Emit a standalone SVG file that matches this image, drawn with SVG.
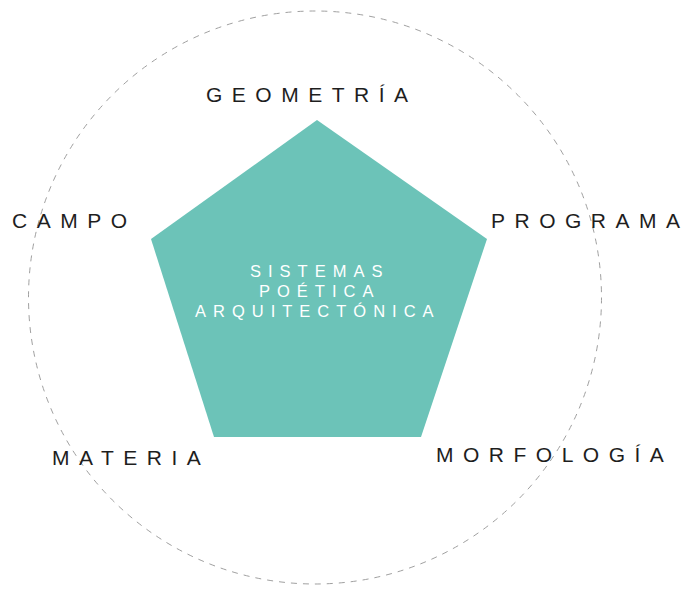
<svg xmlns="http://www.w3.org/2000/svg" width="688" height="592" viewBox="0 0 688 592">
<style>
.lbl{font-family:"Liberation Sans",Arial,sans-serif;font-size:21px;fill:#1e1e1e;letter-spacing:9.5px}
.in{font-family:"Liberation Sans",Arial,sans-serif;font-size:16.5px;fill:#ffffff;letter-spacing:7px}
</style>
<rect width="688" height="592" fill="#ffffff"/>
<g id="connectors">
<circle cx="315" cy="297.5" r="286.5" fill="none" stroke="#a0a0a0" stroke-width="1" stroke-dasharray="6 6"/>
</g>
<g id="center">
<polygon points="317,120 487,239 421,437 214,437 151,239" fill="#6cc3b8"/>
<text class="in" x="250" y="277">SISTEMAS</text>
<text class="in" x="259" y="297">POÉTICA</text>
<text class="in" x="195" y="317">ARQUITECTÓNICA</text>
</g>
<g id="geometria"><text class="lbl" x="206" y="102">GEOMETRÍA</text></g>
<g id="campo"><text class="lbl" x="12" y="228">CAMPO</text></g>
<g id="programa"><text class="lbl" x="491" y="228">PROGRAMA</text></g>
<g id="materia"><text class="lbl" x="52" y="465">MATERIA</text></g>
<g id="morfologia"><text class="lbl" x="436" y="462">MORFOLOGÍA</text></g>
</svg>
